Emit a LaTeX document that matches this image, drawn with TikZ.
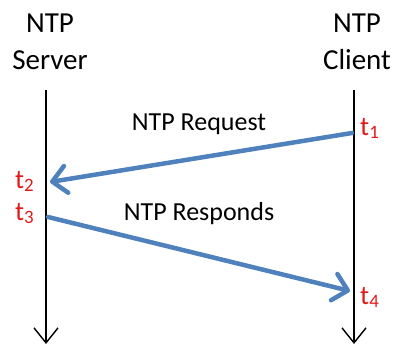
\documentclass[tikz,border=0pt]{standalone}
\usepackage{fontspec}
\setmainfont{Carlito}
\usetikzlibrary{arrows.meta}
\definecolor{msgblue}{RGB}{79,129,189}
\definecolor{stampred}{RGB}{225,25,25}

\begin{document}
\begin{tikzpicture}[x=1pt,y=-1pt,
		host/.style={align=center,font=\fontsize{29}{37}\selectfont,inner sep=0pt,anchor=base},
		msg/.style={font=\fontsize{26}{30}\selectfont,inner sep=0pt,anchor=base},
		stamp/.style={text=stampred,font=\fontsize{27}{30}\selectfont,inner sep=0pt,anchor=base west},
		timeline/.style={line width=1.4pt,-{Straight Barb[length=15pt,width=24pt]}},
		packet/.style={msgblue,line width=4.5pt,line cap=round,
			-{Straight Barb[length=14pt,width=27pt,line join=round,line cap=round]}},]

\useasboundingbox (0,0) rectangle (393,345);

\node[host] (server) at (50,70) {NTP\\Server};
\node[host] (client) at (357,70) {NTP\\Client};

% time lines
\coordinate (stop) at (46,90);
\coordinate (sbot) at (46,344);
\coordinate (ctop) at (354,90);
\coordinate (cbot) at (354,344);
\draw[timeline] (stop) -- (sbot);
\draw[timeline] (ctop) -- (cbot);

% time stamps
\node[stamp] (t1) at (360,135) {t\textsubscript{1}};
\node[stamp] (t2) at (15,188) {t\textsubscript{2}};
\node[stamp] (t3) at (15,220) {t\textsubscript{3}};
\node[stamp] (t4) at (360,304) {t\textsubscript{4}};

\coordinate (send1) at (352,133);
\coordinate (recv1) at (50,182);
\coordinate (send2) at (48,217);
\coordinate (recv2) at (350,291);

% messages
\draw[packet] (send1) -- (recv1);
\draw[packet] (send2) -- (recv2);
\node[msg] (req) at (199,130) {NTP Request};
\node[msg] (resp) at (199,220) {NTP Responds};
\end{tikzpicture}
\end{document}
